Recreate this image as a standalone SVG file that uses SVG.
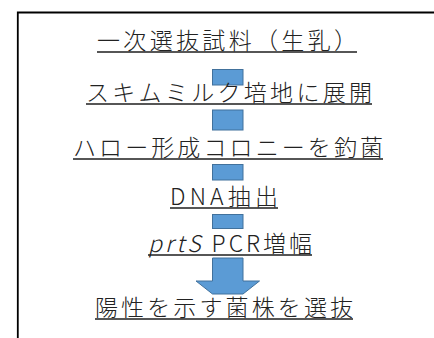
<svg xmlns="http://www.w3.org/2000/svg" width="434" height="338" viewBox="0 0 434 338">
<style>
.t{font-family:"Noto Sans CJK JP","Noto Sans",sans-serif;font-size:23px;fill:#222;font-weight:300}
.u{stroke:#1e1e1e;stroke-width:1.5;fill:none}
.b{fill:#5b9bd5;stroke:#41719c;stroke-width:1}
</style>
<rect width="434" height="338" fill="#fff"/>
<path d="M17.8,338 V12.5 H434" fill="none" stroke="#000" stroke-width="1.8"/>
<g id="connectors">
<rect class="b" x="212.5" y="69.5" width="30.5" height="15.5"/>
<rect class="b" x="212.5" y="110" width="30.5" height="20"/>
<rect class="b" x="212.5" y="164.5" width="30.5" height="15.5"/>
<rect class="b" x="212.5" y="214.5" width="30.5" height="14"/>
<path class="b" d="M212.5,258 H243 V281 H259.5 L243,294 H212.5 L196,281 H212.5 Z"/>
</g>
<g id="n1"><text class="t" x="97" y="48.5" textLength="260" lengthAdjust="spacing">一次選抜試料（生乳）</text><line class="u" x1="97" y1="52" x2="357" y2="52"/></g>
<g id="n2"><text class="t" x="86" y="100.5" textLength="286" lengthAdjust="spacing">スキムミルク培地に展開</text><line class="u" x1="86" y1="104" x2="372" y2="104"/></g>
<g id="n3"><text class="t" x="73" y="155.5" textLength="310" lengthAdjust="spacing">ハロー形成コロニーを釣菌</text><line class="u" x1="73" y1="159" x2="383" y2="159"/></g>
<g id="n4"><text class="t" x="170" y="205" textLength="108" lengthAdjust="spacing">DNA抽出</text><line class="u" x1="170" y1="208" x2="278" y2="208"/></g>
<g id="n5"><text class="t" x="148" y="251.5" textLength="164" lengthAdjust="spacing"><tspan font-style="italic">prtS</tspan> PCR増幅</text><line class="u" x1="148" y1="255" x2="312" y2="255"/></g>
<g id="n6"><text class="t" x="95" y="315.5" textLength="258" lengthAdjust="spacing">陽性を示す菌株を選抜</text><line class="u" x1="95" y1="319" x2="353" y2="319"/></g>
</svg>
